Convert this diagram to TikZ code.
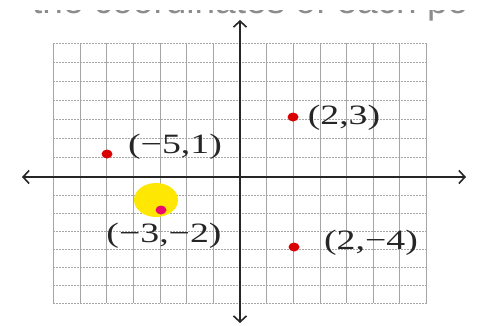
\documentclass[tikz,border=0pt]{standalone}
\usepackage{fontspec}
\setmainfont{Liberation Serif}
\newfontfamily\topfont{Liberation Sans}
\usetikzlibrary{arrows.meta,shapes.geometric}
\begin{document}
\begin{tikzpicture}[x=1pt,y=-1pt,
  gridv/.style={draw=gray!70,line width=0.9pt},
  gridh/.style={draw=gray!70,line width=0.9pt,dash pattern=on 2pt off 1pt},
  axis/.style={draw=black!85,line width=1.6pt,{Straight Barb[length=6pt,width=13pt,line width=1.6pt]}-{Straight Barb[length=6pt,width=13pt,line width=1.6pt]}},
  dot/.style={ellipse,fill=red!85!black,minimum width=11pt,minimum height=9pt,inner sep=0pt},
  pinkdot/.style={ellipse,fill=magenta!70!red,minimum width=11pt,minimum height=9pt,inner sep=0pt},
  glow/.style={ellipse,fill=yellow!90!orange,minimum width=44pt,minimum height=34pt,inner sep=0pt},
  lbl/.style={font=\fontsize{28}{30}\selectfont,xscale=1.35,text=black!85,inner sep=0pt},
  toptext/.style={font=\topfont\fontsize{37}{40}\selectfont,text=black!45,inner sep=0pt,anchor=base west},
  cover/.style={fill=white,draw=none}]
\useasboundingbox[fill=white] (0,0) rectangle (487,325);
% cropped heading: only the lower edge of its letters shows
\node[toptext] (title) at (32,13) {the coordinates of each po};
\fill[cover] (0,0) rectangle (487,9.5);
% grid
\foreach \k in {-7,...,7} {
  \draw[gridv] ({240+26.65*\k},43) -- ({240+26.65*\k},303);
}
\foreach \k in {0,...,7} {
  \draw[gridh] (53.4,{177-19.14*\k}) -- (426.6,{177-19.14*\k});
  \draw[gridh] (53.4,{177+18*\k}) -- (426.6,{177+18*\k});
}
% axes
\coordinate (xl) at (22,177);
\coordinate (xr) at (466,177);
\coordinate (yt) at (240,20);
\coordinate (yb) at (240,323);
\draw[axis] (xl) -- (xr);
\draw[axis] (yb) -- (yt);
% points
\node[glow] (hl) at (156,200) {};
\node[dot] (p23) at (293,117) {};
\node[dot] (p51) at (107,154) {};
\node[pinkdot] (p32) at (161,210) {};
\node[dot] (p24) at (294,247) {};
% labels
\node[lbl] (l23) at (344,118) {(2,3)};
\node[lbl] (l51) at (175,147) {(−5,1)};
\node[lbl] (l32) at (164,236) {(−3,−2)};
\node[lbl] (l24) at (371,243) {(2,−4)};
\end{tikzpicture}
\end{document}
